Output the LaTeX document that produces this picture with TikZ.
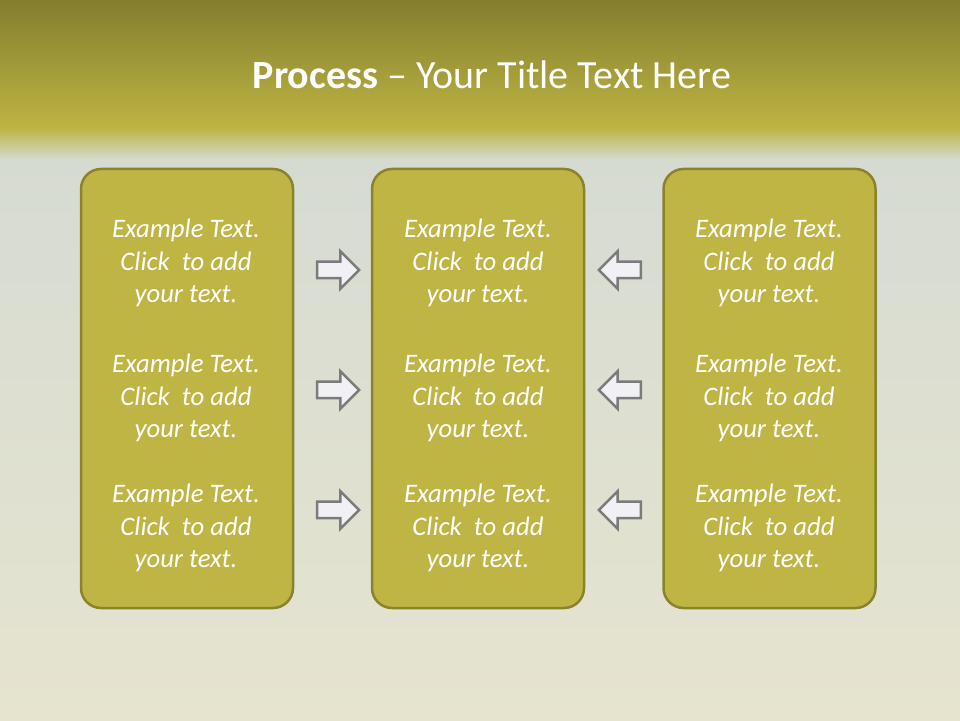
\documentclass[tikz,border=0pt]{standalone}
\usepackage{fontspec}
\setmainfont{Carlito}
\usepackage{tikz}
\usetikzlibrary{arrows.meta, positioning, shapes.arrows}
\definecolor{OliveTop}{HTML}{847E2E}
\definecolor{OliveBand}{HTML}{BDB443}
\definecolor{OliveFill}{HTML}{BFB545}
\definecolor{OliveLine}{HTML}{8A832C}
\definecolor{MistTop}{HTML}{D6DBD2}
\definecolor{MistLow}{HTML}{E6E4CF}
\definecolor{ArrowFill}{HTML}{F1F1F5}
\definecolor{ArrowLine}{HTML}{7B7B7B}
\newcommand{\sample}{Example Text.\\Click~~to add\\your text.}

\begin{document}
\begin{tikzpicture}[
    x=1pt, y=1pt,
    box/.style={rectangle, rounded corners=20pt, draw=OliveLine, line width=2.5pt, fill=OliveFill, minimum width=212pt, minimum height=439pt},
    label/.style={align=center, text=white, font=\fontsize{26.7}{32.5}\selectfont\itshape},
    rarrow/.style={single arrow, draw=ArrowLine, line width=2.5pt, fill=ArrowFill, inner xsep=0pt, inner ysep=7pt, minimum height=42pt, single arrow head extend=10.5pt},
    larrow/.style={rarrow, shape border rotate=180}
]

% background
\fill[top color=OliveTop, bottom color=OliveBand] (0,592) rectangle (960,720);
\fill[top color=OliveBand, bottom color=MistTop] (0,560) rectangle (960,592);
\fill[top color=MistTop, bottom color=MistLow] (0,0) rectangle (960,560);
\useasboundingbox (0,0) rectangle (960,720);

\node[text=white, font=\fontsize{40}{48}\selectfont] (title) at (492,645) {\textbf{Process} -- Your Title Text Here};

\node[box] (left) at (187,331.5) {};
\node[box] (middle) at (478,331.5) {};
\node[box] (right) at (769.5,331.5) {};

\node[label] (l1) at (186,457) {\sample};
\node[label] (l2) at (186,322) {\sample};
\node[label] (l3) at (186,192) {\sample};
\node[label] (m1) at (478,457) {\sample};
\node[label] (m2) at (478,322) {\sample};
\node[label] (m3) at (478,192) {\sample};
\node[label] (r1) at (769,457) {\sample};
\node[label] (r2) at (769,322) {\sample};
\node[label] (r3) at (769,192) {\sample};

\node[rarrow] (ra1) at (334,450) {};
\node[rarrow] (ra2) at (334,330) {};
\node[rarrow] (ra3) at (334,210) {};
\node[larrow] (la1) at (624,450) {};
\node[larrow] (la2) at (624,330) {};
\node[larrow] (la3) at (624,210) {};

\end{tikzpicture}
\end{document}
